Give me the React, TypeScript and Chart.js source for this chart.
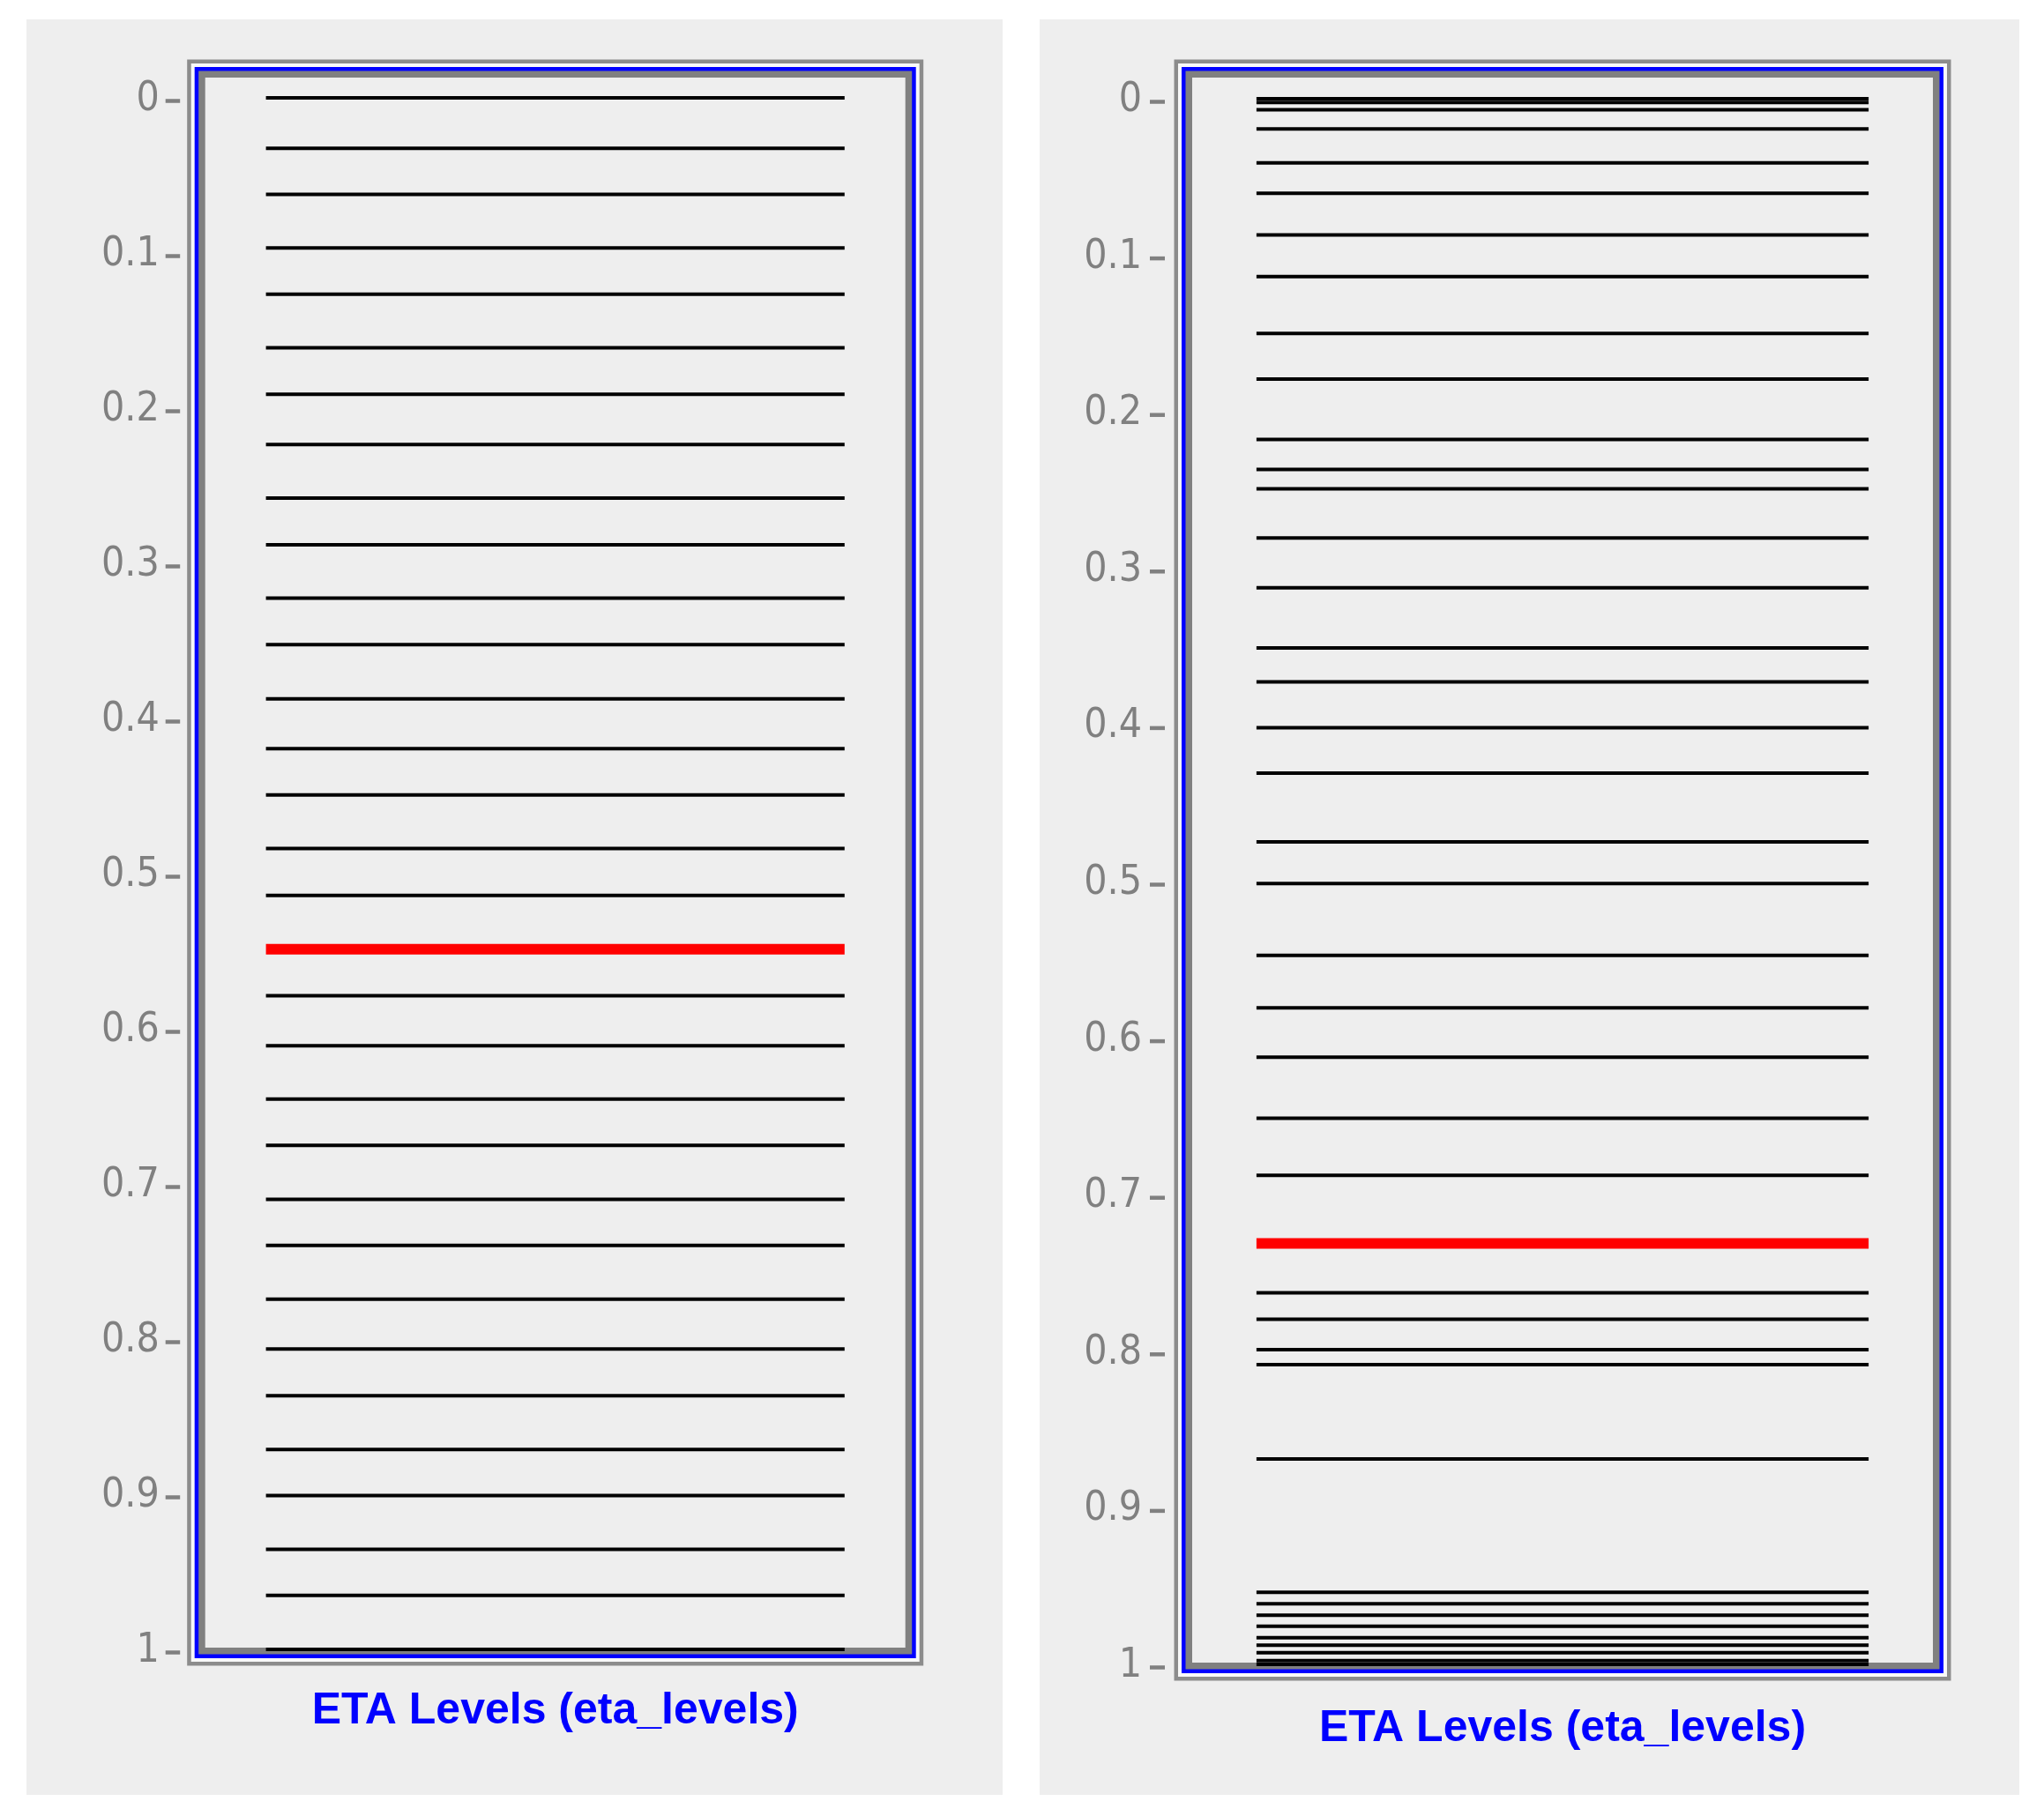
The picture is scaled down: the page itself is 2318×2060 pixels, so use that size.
import React, { useEffect, useRef } from "react";
import { Chart, registerables } from "chart.js";

Chart.register(...registerables);

// ---- data ----
const TICK_VALUES = [0, 0.1, 0.2, 0.3, 0.4, 0.5, 0.6, 0.7, 0.8, 0.9, 1];
const TICK_LABELS = ["0", "0.1", "0.2", "0.3", "0.4", "0.5", "0.6", "0.7", "0.8", "0.9", "1"];
const TITLE = "ETA Levels (eta_levels)";

const LEFT_LEVELS = [
  0, 0.0325, 0.0622, 0.0968, 0.1266, 0.1611, 0.191, 0.2235, 0.258, 0.2881, 0.3225,
  0.3524, 0.3873, 0.4194, 0.4493, 0.4838, 0.514, 0.5487, 0.5787, 0.6109, 0.6453,
  0.6752, 0.7099, 0.7396, 0.7743, 0.8064, 0.8365, 0.8711, 0.9009, 0.9355, 0.9652, 1.0,
];
const LEFT_HIGHLIGHT = [0.5487];

const RIGHT_LEVELS = [
  0, 0.0024, 0.007, 0.0193, 0.041, 0.0604, 0.087, 0.1136, 0.1499, 0.179, 0.2176,
  0.2368, 0.2492, 0.2806, 0.3123, 0.3508, 0.3725, 0.4017, 0.4307, 0.4747, 0.5012,
  0.5472, 0.5806, 0.6122, 0.6512, 0.6876, 0.7311, 0.7626, 0.7796, 0.799, 0.8086,
  0.8688, 0.9539, 0.9613, 0.9686, 0.9757, 0.9829, 0.9877, 0.9926, 0.9976, 1.0,
];
const RIGHT_HIGHLIGHT = [0.7311];

const LINE_SPAN = [0, 1];

type PanelCfg = {
  left: number;
  top: number;
  width: number;
  height: number;
  axisWidth: number;
  padRight: number;
  padTop: number;
  padBottom: number;
  labelPad: number;
  titlePadTop: number;
  innerTop: number;
  dash: [number, number];
  levels: number[];
  highlight: number[];
};

const PANELS: PanelCfg[] = [
  {
    left: 30, top: 22, width: 1107, height: 2014,
    axisWidth: 202.7, padRight: 110.3, padTop: 89, padBottom: 65,
    labelPad: 52, titlePadTop: 40, innerTop: 23, dash: [-45, -28.5],
    levels: LEFT_LEVELS, highlight: LEFT_HIGHLIGHT,
  },
  {
    left: 1179, top: 22, width: 1111, height: 2014,
    axisWidth: 173, padRight: 98, padTop: 90, padBottom: 45,
    labelPad: 57, titlePadTop: 43, innerTop: 24, dash: [-48, -31],
    levels: RIGHT_LEVELS, highlight: RIGHT_HIGHLIGHT,
  },
];

const framePlugin = (cfg: PanelCfg) => ({
  id: "frame",
  beforeDatasetsDraw(chart: any) {
    const ctx = chart.ctx;
    const { left, right, top, bottom } = chart.chartArea;
    const iL = left, iR = right, iT = top - cfg.innerTop, iB = bottom - 2;
    const bands: [number, string][] = [
      [20.5, "#8c8c8c"],
      [16, "#f8f8f8"],
      [12, "#0000ff"],
      [7.5, "#808080"],
      [0, "#eeeeee"],
    ];
    ctx.save();
    for (const [e, c] of bands) {
      ctx.fillStyle = c;
      ctx.fillRect(iL - e, iT - e, iR - iL + 2 * e, iB - iT + 2 * e);
    }
    ctx.restore();
  },
  afterDraw(chart: any) {
    const ctx = chart.ctx;
    const ys = chart.scales.y;
    const L = chart.chartArea.left;
    ctx.save();
    ctx.fillStyle = "#808080";
    for (const t of ys.ticks) {
      const py = ys.getPixelForValue(t.value) + 3.5;
      ctx.fillRect(L + cfg.dash[0], py - 2.25, cfg.dash[1] - cfg.dash[0], 4.5);
    }
    ctx.restore();
  },
});

function Panel({ cfg }: { cfg: PanelCfg }) {
  const ref = useRef<HTMLCanvasElement | null>(null);
  useEffect(() => {
    if (!ref.current) return;
    const datasets = cfg.levels.map((v) => {
      const hi = cfg.highlight.includes(v);
      return {
        data: LINE_SPAN.map((x) => ({ x, y: v })),
        borderColor: hi ? "#ff0000" : "#000000",
        backgroundColor: hi ? "#ff0000" : "#000000",
        borderWidth: hi ? 12 : 4,
        pointRadius: 0,
        clip: false as any,
        order: hi ? 0 : 1,
      };
    });
    const chart = new Chart(ref.current, {
      type: "line",
      data: { datasets },
      options: {
        animation: false,
        responsive: false,
        devicePixelRatio: 1,
        layout: {
          padding: { left: 0, right: cfg.padRight, top: cfg.padTop, bottom: cfg.padBottom },
        },
        plugins: {
          legend: { display: false },
          tooltip: { enabled: false },
          title: {
            display: true,
            text: TITLE,
            position: "bottom",
            fullSize: false,
            color: "#0000ff",
            font: { family: "'Liberation Sans', Arial, sans-serif", size: 50, weight: "bold" },
            padding: { top: cfg.titlePadTop, bottom: 0 },
          },
        },
        scales: {
          x: {
            type: "linear",
            display: false,
            min: -0.105,
            max: 1.105,
          },
          y: {
            type: "linear",
            reverse: true,
            min: 0,
            max: 1,
            grid: { display: false, drawTicks: false },
            border: { display: false },
            afterBuildTicks: (scale: any) => {
              scale.ticks = TICK_VALUES.map((value) => ({ value }));
            },
            afterFit: (scale: any) => {
              scale.width = cfg.axisWidth;
              scale.paddingTop = 0;
              scale.paddingBottom = 0;
            },
            ticks: {
              padding: cfg.labelPad,
              labelOffset: 2,
              color: "#808080",
              font: {
                family: "'Liberation Sans Narrow', 'DejaVu Sans Condensed', sans-serif",
                size: 46,
              },
              callback: (_v: any, i: number) => TICK_LABELS[i],
            },
          },
        },
      },
      plugins: [framePlugin(cfg)],
    });
    return () => chart.destroy();
  }, [cfg]);
  return (
    <canvas
      ref={ref}
      width={cfg.width}
      height={cfg.height}
      style={{
        position: "absolute",
        left: cfg.left,
        top: cfg.top,
        width: cfg.width,
        height: cfg.height,
        background: "#eeeeee",
      }}
    />
  );
}

export default function App() {
  return (
    <div style={{ position: "absolute", left: 0, top: 0, width: 2318, height: 2060, background: "#ffffff" }}>
      {PANELS.map((p, i) => (
        <Panel key={i} cfg={p} />
      ))}
    </div>
  );
}
